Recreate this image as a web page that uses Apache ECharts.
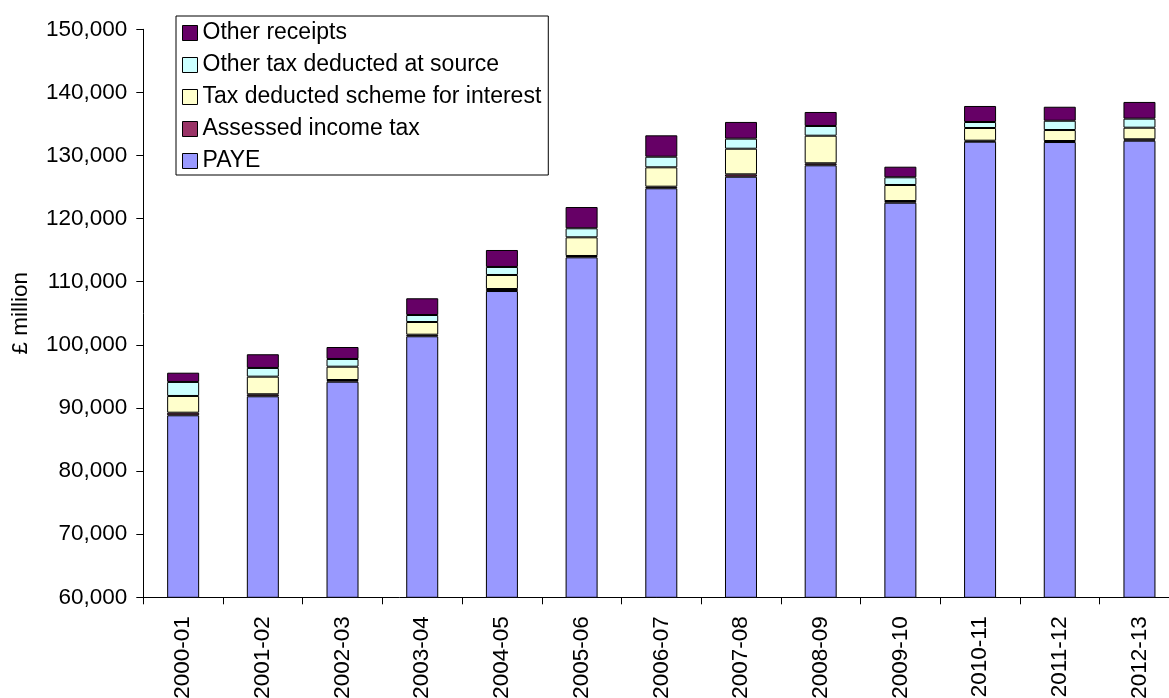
<!DOCTYPE html>
<html>
<head>
<meta charset="utf-8">
<script src="https://cdn.jsdelivr.net/npm/echarts@6/dist/echarts.min.js"></script>
<style>
html,body{margin:0;padding:0;background:#fff;}
#chart{width:1169px;height:698px;}
</style>
</head>
<body>
<div id="chart"></div>
<script>
var categories = ['2000-01','2001-02','2002-03','2003-04','2004-05','2005-06','2006-07','2007-08','2008-09','2009-10','2010-11','2011-12','2012-13'];
var paye = [88840, 91850, 94160, 101360, 108530, 113870, 124810, 126640, 128450, 122520, 132190, 132140, 132350];
var assessed = [410, 320, 270, 250, 320, 210, 250, 380, 320, 270, 160, 160, 220];
var tdsi = [2650, 2790, 2110, 2010, 2220, 2960, 3070, 4060, 4370, 2540, 2010, 1740, 1840];
var otherTax = [2220, 1380, 1220, 1110, 1270, 1430, 1680, 1590, 1540, 1220, 950, 1470, 1430];
var otherReceipts = [1470, 2170, 1900, 2650, 2690, 3370, 3390, 2650, 2220, 1680, 2540, 2220, 2650];

var FONT = "'Liberation Sans', Arial, sans-serif";
function bar(name, data, color) {
  return {
    name: name, type: 'bar', stack: 'total', data: data, barWidth: 32,
    itemStyle: { color: color, borderColor: '#000', borderWidth: 1 },
    emphasis: { disabled: true }
  };
}
var chart = echarts.init(document.getElementById('chart'));
chart.setOption({
  animation: false,
  backgroundColor: '#fff',
  textStyle: { fontFamily: FONT },
  grid: { left: 143.3, top: 29.3, width: 1036, height: 568, containLabel: false, outerBoundsMode: 'none' },
  legend: {
    orient: 'vertical', left: 176, top: 16,
    padding: [4, 7, 1, 6],
    icon: 'rect',
    itemWidth: 15, itemHeight: 15, itemGap: 6,
    borderColor: '#000', borderWidth: 1, borderRadius: 0,
    textStyle: { fontFamily: FONT, fontSize: 23, color: '#000', lineHeight: 26 },
    itemStyle: { borderColor: '#000', borderWidth: 1 },
    data: ['Other receipts', 'Other tax deducted at source', 'Tax deducted scheme for interest', 'Assessed income tax', 'PAYE']
  },
  xAxis: {
    type: 'category', data: categories,
    axisLine: { lineStyle: { color: '#000', width: 1 } },
    axisTick: { show: true, length: 7, inside: false, lineStyle: { color: '#000' } },
    axisLabel: { rotate: 90, margin: 19, fontSize: 22.5, color: '#000', fontFamily: FONT, interval: 0 },
    splitLine: { show: false }
  },
  yAxis: {
    type: 'value', min: 60000, max: 150000, interval: 10000,
    name: '£ million', nameLocation: 'middle', nameRotate: 90, nameGap: 111,
    nameTextStyle: { fontSize: 22.5, color: '#000', fontFamily: FONT },
    axisLine: { show: true, lineStyle: { color: '#000', width: 1 } },
    axisTick: { show: true, length: 7, lineStyle: { color: '#000' } },
    axisLabel: { margin: 16, fontSize: 22.5, color: '#000', fontFamily: FONT,
      formatter: function (v) { return v.toLocaleString('en-GB'); } },
    splitLine: { show: false }
  },
  series: [
    bar('PAYE', paye, '#9999FF'),
    bar('Assessed income tax', assessed, '#993366'),
    bar('Tax deducted scheme for interest', tdsi, '#FFFFCC'),
    bar('Other tax deducted at source', otherTax, '#CCFFFF'),
    bar('Other receipts', otherReceipts, '#660066')
  ]
});
</script>
</body>
</html>
